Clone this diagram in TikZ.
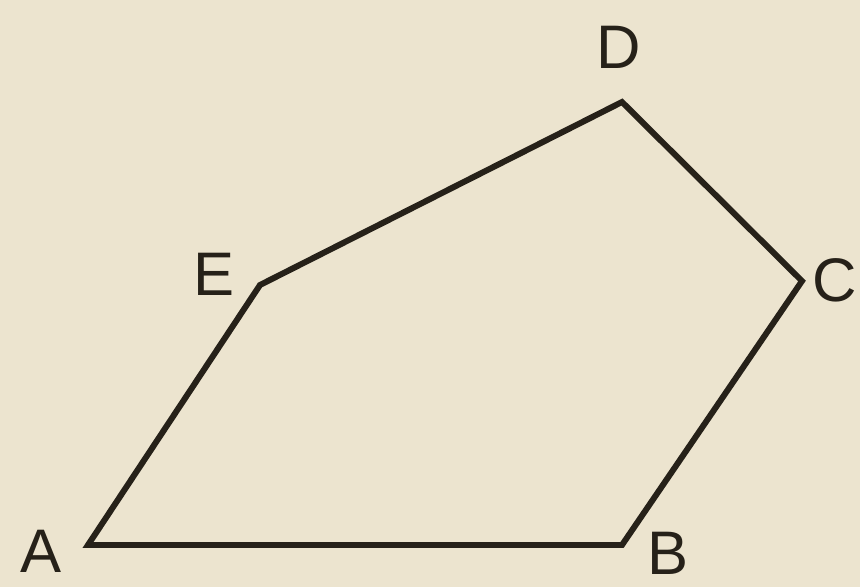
\documentclass[tikz,border=0pt]{standalone}
\usepackage{fontspec}
\setmainfont{Liberation Sans}
\definecolor{paper}{RGB}{236,228,207}
\definecolor{ink}{RGB}{38,33,25}
\begin{document}
\begin{tikzpicture}[
  edge/.style={draw=ink, line width=3.4pt, line join=miter},
  lbl/.style={text=ink, font=\fontsize{35}{36}\selectfont, inner sep=0pt}
]
\fill[paper] (0,0) rectangle (17.2,11.74);
\useasboundingbox (0,0) rectangle (17.2,11.74);
\coordinate (A) at (1.76,0.84);
\coordinate (B) at (12.44,0.84);
\coordinate (C) at (16.04,6.12);
\coordinate (D) at (12.44,9.70);
\coordinate (E) at (5.20,6.04);
\draw[edge] (A) -- (B) -- (C) -- (D) -- (E) -- cycle;
\node[lbl] (lA) at (0.82,0.72) {A};
\node[lbl] (lB) at (13.36,0.68) {B};
\node[lbl] (lC) at (16.70,6.14) {C};
\node[lbl] (lD) at (12.38,10.80) {D};
\node[lbl] (lE) at (4.28,6.26) {E};
\end{tikzpicture}
\end{document}
